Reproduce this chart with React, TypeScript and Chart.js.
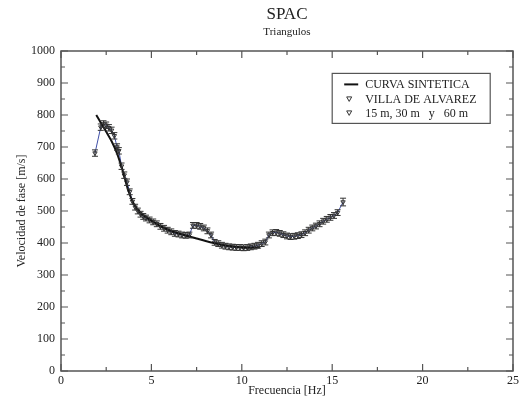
import React, { useEffect, useRef } from "react";
import { Chart, registerables } from "chart.js";

Chart.register(...registerables);

const titleText = "SPAC";
const subtitleText = "Triangulos";
const xAxisTitle = "Frecuencia [Hz]";
const yAxisTitle = "Velocidad de fase [m/s]";
const legendLabels = ["CURVA SINTETICA", "VILLA DE ALVAREZ", "15 m, 30 m   y   60 m"];

// Synthetic dispersion curve
const synthFreq = [1.95, 2.2, 2.5, 2.8, 3.1, 3.4, 3.7, 4.0, 4.3, 4.6, 5.0, 5.5, 6.0, 6.5, 7.0, 7.5, 8.0, 8.5, 9.0, 9.5, 10.0, 10.5, 11.0];
const synthVel = [800, 776, 748, 718, 680, 628, 568, 525, 500, 485, 470, 453, 440, 430, 422, 414, 406, 399, 393, 389, 386, 385, 386];

// Observed phase velocities (Villa de Alvarez)
const obsFreq = [1.88, 2.2, 2.35, 2.5, 2.65, 2.8, 2.95, 3.1, 3.2, 3.35, 3.5, 3.65, 3.8, 3.95, 4.1, 4.25, 4.4, 4.55, 4.7, 4.9, 5.1, 5.3, 5.5, 5.7, 5.9, 6.1, 6.3, 6.5, 6.7, 6.9, 7.1, 7.3, 7.5, 7.7, 7.9, 8.1, 8.3, 8.5, 8.7, 8.9, 9.1, 9.3, 9.5, 9.7, 9.9, 10.1, 10.3, 10.5, 10.7, 10.9, 11.1, 11.3, 11.5, 11.7, 11.9, 12.1, 12.3, 12.5, 12.7, 12.9, 13.1, 13.3, 13.5, 13.7, 13.9, 14.1, 14.3, 14.5, 14.7, 14.9, 15.1, 15.3, 15.6];
const obsVel = [681, 762, 772, 768, 760, 752, 735, 700, 688, 640, 612, 590, 560, 530, 512, 500, 490, 483, 478, 472, 466, 460, 452, 446, 440, 435, 430, 428, 425, 424, 425, 455, 455, 452, 447, 438, 425, 402, 398, 393, 390, 388, 387, 386, 386, 385, 386, 388, 390, 393, 398, 403, 425, 432, 433, 430, 426, 422, 420, 421, 423, 426, 432, 440, 447, 453, 460, 468, 474, 480, 486, 495, 528];
const obsErr = [10, 10, 10, 10, 10, 10, 10, 10, 10, 10, 10, 10, 9, 9, 9, 9, 9, 9, 9, 9, 9, 9, 9, 9, 9, 9, 9, 9, 9, 9, 9, 9, 9, 9, 9, 9, 9, 9, 9, 9, 9, 9, 9, 9, 9, 9, 9, 9, 9, 9, 9, 9, 9, 9, 9, 9, 9, 9, 9, 9, 9, 9, 9, 9, 9, 9, 9, 9, 9, 9, 9, 9, 12];

const xTickMin = 0;
const xTickMax = 25;
const xMajorStep = 5;
const xMinorStep = 2.5;
const yTickMin = 0;
const yTickMax = 1000;
const yMajorStep = 100;
const yMinorStep = 50;

const FONT = "'Liberation Serif', 'DejaVu Serif', serif";
const INK = "#222";
const FRAME = "#555";

const frameAndTicks = {
  id: "frameAndTicks",
  afterDraw(chart: any) {
    const { ctx, chartArea: a, scales } = chart;
    const xs = scales.x;
    const ys = scales.y;
    ctx.save();
    ctx.strokeStyle = FRAME;
    ctx.lineWidth = 1.5;
    ctx.strokeRect(a.left, a.top, a.right - a.left, a.bottom - a.top);
    ctx.lineWidth = 1.2;
    ctx.beginPath();
    for (let v = xTickMin; v <= xTickMax + 1e-9; v += xMinorStep) {
      const major = Math.abs(v / xMajorStep - Math.round(v / xMajorStep)) < 1e-6;
      const len = major ? 7 : 4;
      const px = xs.getPixelForValue(v);
      ctx.moveTo(px, a.bottom);
      ctx.lineTo(px, a.bottom - len);
      ctx.moveTo(px, a.top);
      ctx.lineTo(px, a.top + len);
    }
    for (let v = yTickMin; v <= yTickMax + 1e-9; v += yMinorStep) {
      const major = Math.abs(v / yMajorStep - Math.round(v / yMajorStep)) < 1e-6;
      const len = major ? 7 : 4;
      const py = ys.getPixelForValue(v);
      ctx.moveTo(a.left, py);
      ctx.lineTo(a.left + len, py);
      ctx.moveTo(a.right, py);
      ctx.lineTo(a.right - len, py);
    }
    ctx.stroke();

    // titles
    ctx.fillStyle = INK;
    ctx.textAlign = "center";
    ctx.textBaseline = "middle";
    const cx = (a.left + a.right) / 2;
    ctx.font = `17px ${FONT}`;
    ctx.fillText(titleText, cx, 15);
    ctx.font = `11px ${FONT}`;
    ctx.fillText(subtitleText, cx, 32);

    // legend
    const bx = xs.getPixelForValue(15) + 0;
    const by = ys.getPixelForValue(930);
    const bw = 158;
    const bh = 50;
    ctx.fillStyle = "#fff";
    ctx.fillRect(bx, by, bw, bh);
    ctx.strokeStyle = FRAME;
    ctx.lineWidth = 1.2;
    ctx.strokeRect(bx, by, bw, bh);
    const rows = [by + 11, by + 25.5, by + 39.5];
    ctx.strokeStyle = "#111";
    ctx.lineWidth = 2;
    ctx.beginPath();
    ctx.moveTo(bx + 12, rows[0]);
    ctx.lineTo(bx + 26, rows[0]);
    ctx.stroke();
    ctx.strokeStyle = "#333";
    ctx.lineWidth = 1;
    for (const ry of [rows[1], rows[2]]) {
      const tx = bx + 17;
      ctx.beginPath();
      ctx.moveTo(tx - 2.5, ry - 2);
      ctx.lineTo(tx + 2.5, ry - 2);
      ctx.lineTo(tx, ry + 2.5);
      ctx.closePath();
      ctx.stroke();
    }
    ctx.fillStyle = INK;
    ctx.textAlign = "left";
    ctx.font = `12px ${FONT}`;
    legendLabels.forEach((t, i) => ctx.fillText(t, bx + 33, rows[i] + 0.5));
    ctx.restore();
  },
};

const errorBars = {
  id: "errorBars",
  afterDatasetsDraw(chart: any) {
    const { ctx, scales } = chart;
    const xs = scales.x;
    const ys = scales.y;
    ctx.save();
    ctx.strokeStyle = "#333";
    ctx.lineWidth = 1;
    ctx.beginPath();
    for (let i = 0; i < obsFreq.length; i++) {
      const px = xs.getPixelForValue(obsFreq[i]);
      const y1 = ys.getPixelForValue(obsVel[i] + obsErr[i]);
      const y2 = ys.getPixelForValue(obsVel[i] - obsErr[i]);
      ctx.moveTo(px, y1);
      ctx.lineTo(px, y2);
      ctx.moveTo(px - 3, y1);
      ctx.lineTo(px + 3, y1);
      ctx.moveTo(px - 3, y2);
      ctx.lineTo(px + 3, y2);
    }
    ctx.stroke();
    ctx.restore();
  },
};

export default function App() {
  const ref = useRef<HTMLCanvasElement | null>(null);
  useEffect(() => {
    if (!ref.current) return;
    const chart = new Chart(ref.current, {
      type: "line",
      data: {
        datasets: [
          {
            label: legendLabels[0],
            data: synthFreq.map((f, i) => ({ x: f, y: synthVel[i] })),
            borderColor: "#111",
            borderWidth: 2,
            pointRadius: 0,
            tension: 0.3,
            fill: false,
          },
          {
            label: legendLabels[1],
            data: obsFreq.map((f, i) => ({ x: f, y: obsVel[i] })),
            borderColor: "#4050a8",
            borderWidth: 1,
            pointStyle: "triangle",
            rotation: 180,
            pointRadius: 2.5,
            pointBorderColor: "#333",
            pointBackgroundColor: "rgba(0,0,0,0)",
            pointBorderWidth: 1,
            tension: 0,
            fill: false,
          },
        ],
      },
      options: {
        animation: false,
        responsive: true,
        maintainAspectRatio: false,
        layout: { padding: { top: 51, right: 11, left: 0, bottom: 0 } },
        plugins: {
          legend: { display: false },
          title: { display: false },
          tooltip: { enabled: false },
        },
        scales: {
          x: {
            type: "linear",
            min: xTickMin,
            max: xTickMax,
            grid: { display: false, drawTicks: false },
            border: { display: false },
            ticks: {
              stepSize: xMajorStep,
              color: INK,
              padding: 3,
              font: { family: FONT, size: 12 },
              maxRotation: 0,
              callback: (v: any) => String(v),
            },
            title: {
              display: true,
              text: xAxisTitle,
              color: INK,
              font: { family: FONT, size: 12 },
              padding: { top: 0, bottom: 5 },
            },
            afterFit(scale: any) {
              scale.height = 32;
            },
          },
          y: {
            type: "linear",
            min: yTickMin,
            max: yTickMax,
            grid: { display: false, drawTicks: false },
            border: { display: false },
            ticks: {
              stepSize: yMajorStep,
              color: INK,
              padding: 6,
              font: { family: FONT, size: 12 },
              callback: (v: any) => String(v),
            },
            title: {
              display: true,
              text: yAxisTitle,
              color: INK,
              font: { family: FONT, size: 12 },
              padding: { top: 15, bottom: 0 },
            },
            afterFit(scale: any) {
              scale.width = 61;
            },
          },
        },
      },
      plugins: [errorBars, frameAndTicks],
    } as any);
    return () => chart.destroy();
  }, []);
  return (
    <div style={{ position: "absolute", left: 0, top: 0, width: 524, height: 403, background: "#fff" }}>
      <canvas ref={ref} />
    </div>
  );
}
